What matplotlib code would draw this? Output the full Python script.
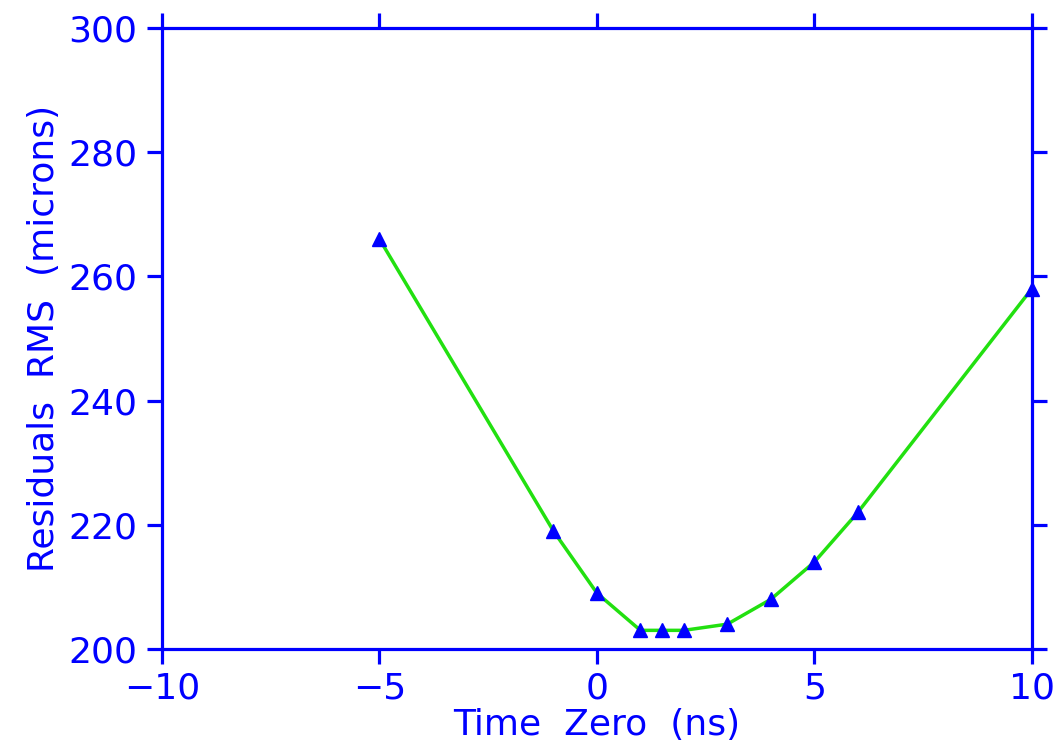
import matplotlib
matplotlib.use("Agg")
import matplotlib.pyplot as plt

time_zero = [-5, -1, 0, 1, 1.5, 2, 3, 4, 5, 6, 10]
rms = [266, 219, 209, 203, 203, 203, 204, 208, 214, 222, 258]

blue = "#0000ff"
plt.rcParams["font.family"] = ["DejaVu Sans"]

fig = plt.figure(figsize=(10.55, 7.5), dpi=100)
ax = fig.add_axes([0.1536, 0.1347, 0.978 - 0.1536, 0.9627 - 0.1347])

ax.plot(time_zero, rms, color="#22e010", lw=2.5, zorder=2)
ax.plot(time_zero, rms, ls="none", marker="^", ms=10, color=blue, zorder=3, clip_on=False)

ax.set_xlim(-10, 10)
ax.set_ylim(200, 300)
ax.set_xticks([-10, -5, 0, 5, 10])
ax.set_yticks([200, 220, 240, 260, 280, 300])
ax.set_xticklabels(["\u221210", "\u22125", "0", "5", "10"])

for s in ax.spines.values():
    s.set_color(blue)
    s.set_linewidth(2.3)
ax.tick_params(axis="both", which="both", direction="out", length=11, width=2.3,
               color=blue, labelcolor=blue, labelsize=26,
               top=True, right=True)
ax.tick_params(axis="x", pad=5)
ax.tick_params(axis="y", pad=7)

ax.set_xlabel("Time  Zero  (ns)", color=blue, fontsize=26, labelpad=2)
ax.set_ylabel("Residuals  RMS  (microns)", color=blue, fontsize=26, labelpad=5)

fig.savefig("out.png", dpi=100)
